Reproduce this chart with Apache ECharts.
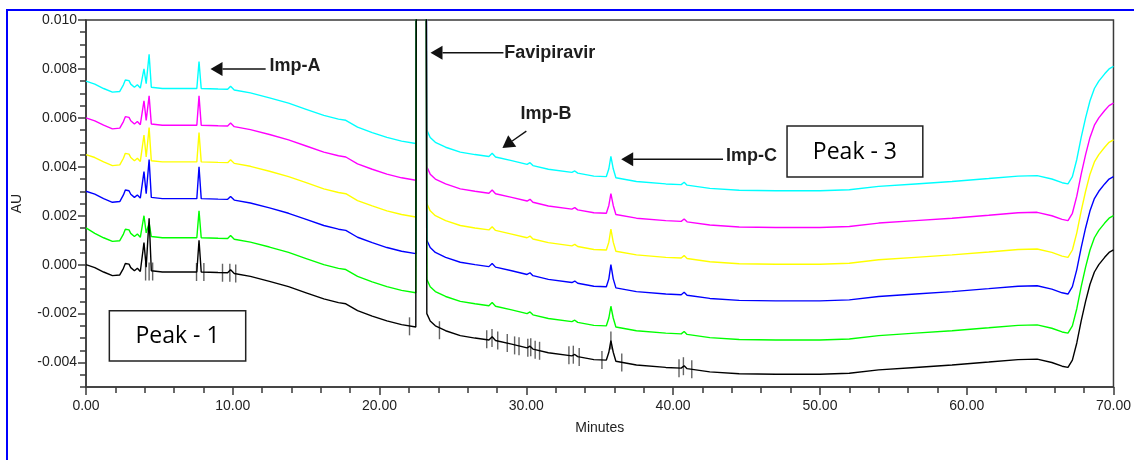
<!DOCTYPE html>
<html>
<head>
<meta charset="utf-8">
<title>HPLC overlay chromatograms</title>
<script src="https://cdn.jsdelivr.net/npm/echarts@6/dist/echarts.min.js"></script>
<style>
  html, body { margin: 0; padding: 0; background: #ffffff; }
  #chart { width: 1134px; height: 460px; }
</style>
</head>
<body>
<div id="chart"></div>
<script>
// Retention time grid (minutes) shared by all six overlaid injections
const minutes = [
  0, 0.6, 1.2, 1.8, 2.3, 2.55, 2.68, 2.8, 2.93, 3.05, 3.3, 3.5,
  3.7, 3.83, 3.95, 4.1, 4.3, 4.45, 5.2, 6.4, 7.55, 7.7,
  7.85, 9.0, 9.65, 9.85, 10.1, 11.2, 12.5, 13.8, 15.0, 16.2,
  17.2, 17.7, 18.5, 19.5, 20.5, 21.5, 22.47, 22.54, 22.8, 23.12,
  23.22, 23.45, 23.8, 24.5, 25.5, 26.5, 27.45, 27.67, 27.9, 29.0,
  30.05, 30.25, 30.45, 31.5, 33.1, 33.3, 33.5, 34.6, 35.45, 35.62,
  35.76, 35.92, 36.1, 37.5, 39.5, 40.55, 40.75, 40.95, 42.5, 44.5,
  47, 50, 52, 54, 56.5, 59, 61.5, 63.5, 64.8, 65.8,
  66.5, 66.9, 67.2, 67.5, 67.8, 68.1, 68.4, 68.7, 69.0, 69.4,
  69.7, 70
];

// Detector response (AU) of each injection, offset for the overlay view.
// The main Favipiravir peak runs far off scale and is clipped at the top.
const traceBlack = [
  0, -0.00012, -0.0003, -0.00045, -0.00042, -0.00015, 0.00005, 0.0001, 0.00002, -0.00012, -0.00025, -0.00015,
  -0.00028, -0.00025, 0.0009, -0.0001, 0.0019, -0.00025, -0.0003, -0.0003, -0.0003, 0.001,
  -0.0003, -0.00032, -0.00033, -0.00021, -0.00036, -0.00048, -0.00068, -0.0009, -0.00115, -0.0014,
  -0.00155, -0.0016, -0.00188, -0.0021, -0.0023, -0.00245, -0.00255, 0.03, 0.09, 0.03,
  -0.002, -0.0023, -0.0025, -0.0027, -0.0029, -0.003, -0.00308, -0.00295, -0.0031, -0.00325,
  -0.0034, -0.00333, -0.00345, -0.0036, -0.00373, -0.00367, -0.00376, -0.00388, -0.0039, -0.00358,
  -0.0031, -0.00358, -0.00395, -0.0041, -0.0042, -0.00423, -0.00413, -0.00425, -0.00438, -0.00446,
  -0.00448, -0.00448, -0.00444, -0.0043, -0.0042, -0.0041, -0.00398, -0.00388, -0.00386, -0.004,
  -0.00415, -0.0042, -0.0039, -0.0032, -0.0023, -0.0015, -0.0008, -0.0003, 0, 0.0003,
  0.0005, 0.0006
];
const traceGreen = [
  0.0015, 0.00128, 0.0011, 0.00095, 0.00098, 0.00125, 0.00145, 0.0015, 0.00142, 0.00128, 0.00115, 0.00125,
  0.00112, 0.00115, 0.002, 0.0013, 0.0017, 0.00115, 0.0011, 0.0011, 0.0011, 0.0022,
  0.0011, 0.00108, 0.00107, 0.00119, 0.00104, 0.00092, 0.00072, 0.0005, 0.00025, 0,
  -0.00015, -0.0002, -0.00048, -0.0007, -0.0009, -0.00105, -0.00115, 0.03, 0.09, 0.03,
  -0.0006, -0.0009, -0.0011, -0.0013, -0.0015, -0.0016, -0.00168, -0.00155, -0.0017, -0.00185,
  -0.002, -0.00193, -0.00205, -0.0022, -0.00233, -0.00227, -0.00236, -0.00248, -0.0025, -0.00218,
  -0.0017, -0.00218, -0.00255, -0.0027, -0.0028, -0.00283, -0.00273, -0.00285, -0.00298, -0.00306,
  -0.00308, -0.00308, -0.00304, -0.0029, -0.0028, -0.0027, -0.00258, -0.00248, -0.00246, -0.0026,
  -0.00275, -0.0028, -0.0025, -0.0018, -0.0009, -0.0001, 0.0006, 0.0011, 0.0014, 0.0017,
  0.0019, 0.002
];
const traceBlue = [
  0.003, 0.00288, 0.0027, 0.00255, 0.00258, 0.00285, 0.00305, 0.0031, 0.00302, 0.00288, 0.00275, 0.00285,
  0.00272, 0.00275, 0.0038, 0.0029, 0.0043, 0.00275, 0.0027, 0.0027, 0.0027, 0.004,
  0.0027, 0.00268, 0.00267, 0.00279, 0.00264, 0.00252, 0.00232, 0.0021, 0.00185, 0.0016,
  0.00145, 0.0014, 0.00112, 0.0009, 0.0007, 0.00055, 0.00045, 0.03, 0.09, 0.03,
  0.001, 0.0007, 0.0005, 0.0003, 0.0001, 0, -0.00008, 0.00005, -0.0001, -0.00025,
  -0.0004, -0.00033, -0.00045, -0.0006, -0.00073, -0.00067, -0.00076, -0.00088, -0.0009, -0.00058,
  0, -0.00058, -0.00095, -0.0011, -0.0012, -0.00123, -0.00113, -0.00125, -0.00138, -0.00146,
  -0.00148, -0.00148, -0.00144, -0.0013, -0.0012, -0.0011, -0.00098, -0.00088, -0.00086, -0.001,
  -0.00115, -0.0012, -0.0009, -0.0002, 0.0007, 0.0015, 0.0022, 0.0027, 0.003, 0.0033,
  0.0035, 0.0036
];
const traceYellow = [
  0.0045, 0.00438, 0.0042, 0.00405, 0.00408, 0.00435, 0.00455, 0.0046, 0.00452, 0.00438, 0.00425, 0.00435,
  0.00422, 0.00425, 0.0053, 0.0044, 0.0056, 0.00425, 0.0042, 0.0042, 0.0042, 0.0054,
  0.0042, 0.00418, 0.00417, 0.00429, 0.00414, 0.00402, 0.00382, 0.0036, 0.00335, 0.0031,
  0.00295, 0.0029, 0.00262, 0.0024, 0.0022, 0.00205, 0.00195, 0.03, 0.09, 0.03,
  0.0025, 0.0022, 0.002, 0.0018, 0.0016, 0.0015, 0.00142, 0.00155, 0.0014, 0.00125,
  0.0011, 0.00117, 0.00105, 0.0009, 0.00077, 0.00083, 0.00074, 0.00062, 0.0006, 0.00092,
  0.00145, 0.00092, 0.00055, 0.0004, 0.0003, 0.00027, 0.00037, 0.00025, 0.00012, 0.00004,
  0.00002, 0.00002, 0.00006, 0.0002, 0.0003, 0.0004, 0.00052, 0.00062, 0.00064, 0.0005,
  0.00035, 0.0003, 0.0006, 0.0013, 0.0022, 0.003, 0.0037, 0.0042, 0.0045, 0.0048,
  0.005, 0.0051
];
const traceMagenta = [
  0.006, 0.00588, 0.0057, 0.00555, 0.00558, 0.00585, 0.00605, 0.0061, 0.00602, 0.00588, 0.00575, 0.00585,
  0.00572, 0.00575, 0.0067, 0.0059, 0.0069, 0.00575, 0.0057, 0.0057, 0.0057, 0.0069,
  0.0057, 0.00568, 0.00567, 0.00579, 0.00564, 0.00552, 0.00532, 0.0051, 0.00485, 0.0046,
  0.00445, 0.0044, 0.00412, 0.0039, 0.0037, 0.00355, 0.00345, 0.03, 0.09, 0.03,
  0.004, 0.0037, 0.0035, 0.0033, 0.0031, 0.003, 0.00292, 0.00305, 0.0029, 0.00275,
  0.0026, 0.00267, 0.00255, 0.0024, 0.00227, 0.00233, 0.00224, 0.00212, 0.0021, 0.00242,
  0.0029, 0.00242, 0.00205, 0.0019, 0.0018, 0.00177, 0.00187, 0.00175, 0.00162, 0.00154,
  0.00152, 0.00152, 0.00156, 0.0017, 0.0018, 0.0019, 0.00202, 0.00212, 0.00214, 0.002,
  0.00185, 0.0018, 0.0021, 0.0028, 0.0037, 0.0045, 0.0052, 0.0057, 0.006, 0.0063,
  0.0065, 0.0066
];
const traceCyan = [
  0.0075, 0.00738, 0.0072, 0.00705, 0.00708, 0.00735, 0.00755, 0.0076, 0.00752, 0.00738, 0.00725, 0.00735,
  0.00722, 0.00725, 0.008, 0.0074, 0.0086, 0.00725, 0.0072, 0.0072, 0.0072, 0.0083,
  0.0072, 0.00718, 0.00717, 0.00729, 0.00714, 0.00702, 0.00682, 0.0066, 0.00635, 0.0061,
  0.00595, 0.0059, 0.00562, 0.0054, 0.0052, 0.00505, 0.00495, 0.03, 0.09, 0.03,
  0.0055, 0.0052, 0.005, 0.0048, 0.0046, 0.0045, 0.00442, 0.00455, 0.0044, 0.00425,
  0.0041, 0.00417, 0.00405, 0.0039, 0.00377, 0.00383, 0.00374, 0.00362, 0.0036, 0.00392,
  0.00443, 0.00392, 0.00355, 0.0034, 0.0033, 0.00327, 0.00337, 0.00325, 0.00312, 0.00304,
  0.00302, 0.00302, 0.00306, 0.0032, 0.0033, 0.0034, 0.00352, 0.00362, 0.00364, 0.0035,
  0.00335, 0.0033, 0.0036, 0.0043, 0.0052, 0.006, 0.0067, 0.0072, 0.0075, 0.0078,
  0.008, 0.0081
];

// Peak start / apex / end integration marks on the black injection
const integrationMinutes = [
  4.06, 4.3, 4.54, 7.53, 8.03, 9.3, 9.8, 10.2, 22.04, 24.08,
  27.3, 27.66, 28.05, 28.7, 29.2, 29.5, 30.1, 30.3, 30.6, 30.9,
  32.9, 33.2, 33.6, 35.15, 35.76, 36.5, 40.4, 40.7, 41.27
];
const integrationAU = [
  -0.00028, -0.00028, -0.00028, -0.0003, -0.0003, -0.00033, -0.00033, -0.00036, -0.00252, -0.00268,
  -0.00305, -0.003, -0.0031, -0.0032, -0.0033, -0.00333, -0.0034, -0.00338, -0.00348, -0.00352,
  -0.0037, -0.00368, -0.00377, -0.0039, -0.0031, -0.004, -0.00423, -0.00415, -0.00427
];

// Labelled AU ticks
const auTickLabels = [-0.004, -0.002, 0, 0.002, 0.004, 0.006, 0.008, 0.010];

// Drawing order: later traces sit on top
const traces = [
  { name: 'Injection 6', color: '#00FFFF', values: traceCyan },
  { name: 'Injection 5', color: '#FF00FF', values: traceMagenta },
  { name: 'Injection 4', color: '#FFFF00', values: traceYellow },
  { name: 'Injection 3', color: '#0000FF', values: traceBlue },
  { name: 'Injection 2', color: '#00FF00', values: traceGreen },
  { name: 'Injection 1', color: '#000000', values: traceBlack }
];
traces.forEach(function (t) {
  if (t.values.length !== minutes.length) {
    throw new Error(t.name + ': ' + t.values.length + ' values for ' + minutes.length + ' times');
  }
});

// Peak annotations, anchored in data units (minutes, AU)
const annotations = [
  { text: 'Imp-A', tip: [8.48, 0.0080], tail: [12.24, 0.0080], at: [12.5, 0.0081] },
  { text: 'Favipiravir', tip: [23.47, 0.00866], tail: [28.44, 0.00866], at: [28.5, 0.00867] },
  { text: 'Imp-B', tip: [28.37, 0.00477], tail: [30.0, 0.00546], at: [29.6, 0.00616] },
  { text: 'Imp-C', tip: [36.46, 0.00431], tail: [43.4, 0.00431], at: [43.6, 0.00446] }
];
const peakBoxes = [
  { text: 'Peak - 1', from: [1.59, -0.00188], to: [10.88, -0.00394] },
  { text: 'Peak - 3', from: [47.76, 0.00567], to: [57.01, 0.00358] }
];

const axisColor = '#3a3a3a';
const axisFont = 'Liberation Sans';

const chart = echarts.init(document.getElementById('chart'), null, { renderer: 'canvas' });

const series = traces.map(function (t) {
  return {
    type: 'line',
    name: t.name,
    data: minutes.map(function (m, i) { return [m, t.values[i]]; }),
    symbol: 'none',
    showSymbol: false,
    clip: true,
    silent: true,
    lineStyle: { color: t.color, width: 1.4 },
    itemStyle: { color: t.color }
  };
});
series.push({
  type: 'scatter',
  name: 'Integration marks',
  data: integrationMinutes.map(function (m, i) { return [m, integrationAU[i]]; }),
  symbol: 'rect',
  symbolSize: [1.4, 18],
  silent: true,
  itemStyle: { color: '#3c3c3c' }
});

chart.setOption({
  animation: false,
  backgroundColor: '#ffffff',
  grid: {
    left: 86, right: 19, top: 20, bottom: 73,
    show: true, borderColor: axisColor, borderWidth: 1.5, backgroundColor: 'transparent'
  },
  xAxis: {
    type: 'value',
    min: 0, max: 70, interval: 10,
    name: 'Minutes',
    nameLocation: 'middle',
    nameGap: 34,
    nameTextStyle: { fontFamily: axisFont, fontSize: 14, color: '#222' },
    axisLine: { show: true, onZero: false, lineStyle: { color: axisColor, width: 1.5 } },
    axisTick: { show: true, inside: false, length: 8, lineStyle: { color: axisColor, width: 1.5 } },
    minorTick: { show: true, splitNumber: 5, length: 6, lineStyle: { color: axisColor, width: 1.5 } },
    axisLabel: {
      margin: 12, fontFamily: axisFont, fontSize: 14, color: '#222',
      formatter: function (v) { return v.toFixed(2); }
    },
    splitLine: { show: false },
    minorSplitLine: { show: false }
  },
  yAxis: [
    {
      type: 'value',
      position: 'left',
      min: -0.005, max: 0.010,
      name: 'AU',
      nameLocation: 'middle',
      nameGap: 62,
      nameRotate: 90,
      nameTextStyle: { fontFamily: axisFont, fontSize: 14, color: '#222' },
      axisLine: { show: true, onZero: false, lineStyle: { color: axisColor, width: 1.5 } },
      axisTick: { show: true, inside: false, length: 8, customValues: auTickLabels, lineStyle: { color: axisColor, width: 1.5 } },
      axisLabel: {
        margin: 9, fontFamily: axisFont, fontSize: 14, color: '#222',
        customValues: auTickLabels,
        formatter: function (v) { return v.toFixed(3); }
      },
      splitLine: { show: false }
    },
    {
      type: 'value',
      position: 'left',
      min: -0.005, max: 0.010, interval: 0.0005,
      axisLine: { show: false, onZero: false },
      axisTick: { show: true, inside: false, length: 6, lineStyle: { color: axisColor, width: 1.5 } },
      axisLabel: { show: false },
      splitLine: { show: false }
    }
  ],
  series: series
});

// Annotations drawn on top of the plot
function toPx(pt) {
  return chart.convertToPixel({ xAxisIndex: 0, yAxisIndex: 0 }, pt);
}
function arrow(tipPt, tailPt) {
  const a = toPx(tipPt), b = toPx(tailPt);
  const dx = b[0] - a[0], dy = b[1] - a[1];
  const len = Math.hypot(dx, dy), ux = dx / len, uy = dy / len;
  const headLen = 12, headHalf = 7;
  const base = [a[0] + ux * headLen, a[1] + uy * headLen];
  return [
    { type: 'line', silent: true, z: 100,
      shape: { x1: base[0], y1: base[1], x2: b[0], y2: b[1] },
      style: { stroke: '#111', lineWidth: 1.4 } },
    { type: 'polygon', silent: true, z: 100,
      shape: { points: [a, [base[0] - uy * headHalf, base[1] + ux * headHalf], [base[0] + uy * headHalf, base[1] - ux * headHalf]] },
      style: { fill: '#111' } }
  ];
}

const graphics = [
  { type: 'rect', silent: true, z: 0,
    shape: { x: 7, y: 10, width: 1200, height: 500 },
    style: { fill: 'transparent', stroke: '#0000FF', lineWidth: 2 } }
];
annotations.forEach(function (an) {
  arrow(an.tip, an.tail).forEach(function (g) { graphics.push(g); });
  const p = toPx(an.at);
  graphics.push({
    type: 'text', silent: true, z: 100,
    style: { text: an.text, x: p[0], y: p[1], align: 'left', verticalAlign: 'middle',
      font: 'bold 18px "Liberation Sans"', fill: '#1d1d1d' }
  });
});
peakBoxes.forEach(function (bx) {
  const p1 = toPx(bx.from), p2 = toPx(bx.to);
  graphics.push({
    type: 'rect', silent: true, z: 100,
    shape: { x: p1[0], y: p1[1], width: p2[0] - p1[0], height: p2[1] - p1[1] },
    style: { fill: '#ffffff', stroke: '#222', lineWidth: 1.5 }
  });
  graphics.push({
    type: 'text', silent: true, z: 101,
    style: { text: bx.text, x: (p1[0] + p2[0]) / 2, y: (p1[1] + p2[1]) / 2 + 1,
      align: 'center', verticalAlign: 'middle', font: '23px "Open Sans"', fill: '#000' }
  });
});
chart.setOption({ graphic: graphics });
</script>
</body>
</html>
